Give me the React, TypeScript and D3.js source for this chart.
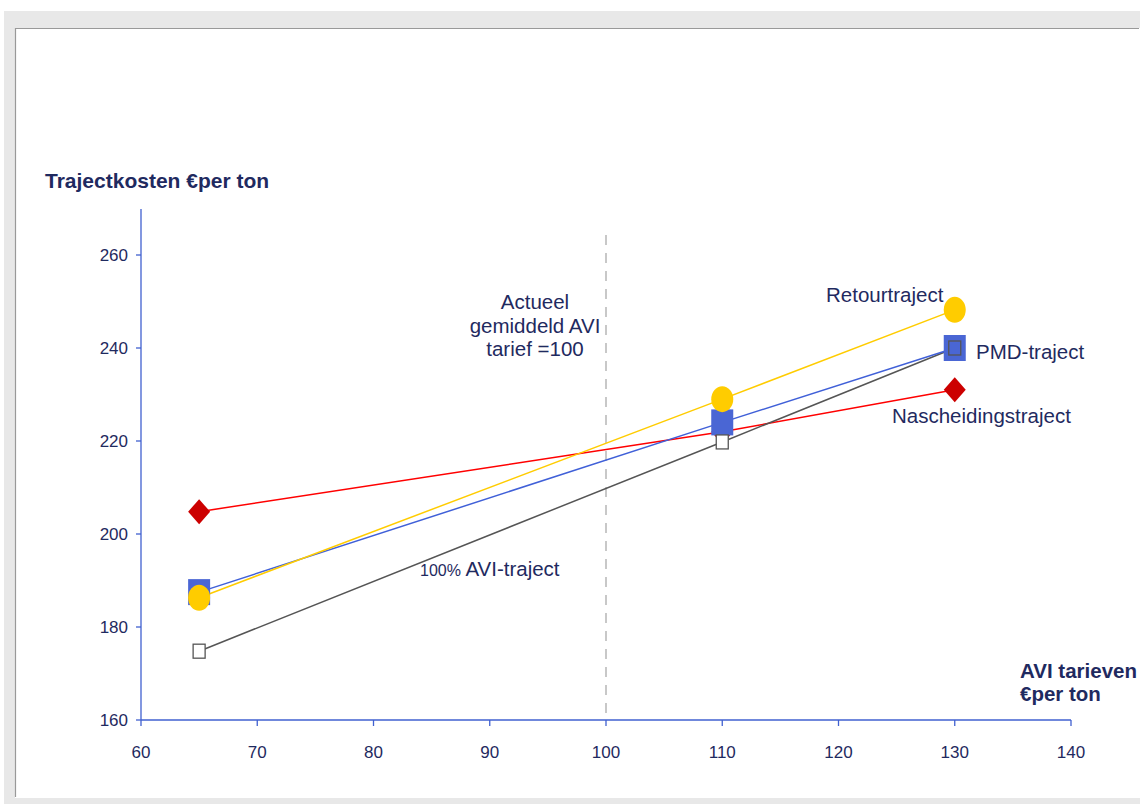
import React from "react";
import * as d3 from "d3";

const xTicks = [60, 70, 80, 90, 100, 110, 120, 130, 140];
const yTicks = [160, 180, 200, 220, 240, 260];
const xValues = [65, 110, 130];
const retourValues = [186.3, 229, 248.2];
const pmdValues = [187.5, 224, 240];
const nascheidingValues = [204.8, 222, 231];
const aviValues = [174.8, 219.8, 240];

const NAVY = "#1f2a60";
const AXIS = "#4060d0";

export default function App() {
  const W = 1140, H = 804;
  const x = d3.scaleLinear().domain([60, 140]).range([141, 1071]);
  const y = d3.scaleLinear().domain([160, 260]).range([720, 255]);
  const line = d3.line<[number, number]>().x((d) => x(d[0])).y((d) => y(d[1]));
  const pts = (vals: number[]) => xValues.map((v, i) => [v, vals[i]] as [number, number]);
  const font = "Arial, 'Liberation Sans', sans-serif";
  const LF = 20.5;

  return (
    <svg width={W} height={H} style={{ position: "absolute", left: 0, top: 0 }} fontFamily={font}>
      <rect x={4} y={11} width={W - 4} height={H - 11} fill="#e8e8e8" />
      <rect x={15} y={28} width={W - 15} height={770} fill="#ffffff" />
      <line x1={15} y1={28.5} x2={1139} y2={28.5} stroke="#999" strokeWidth={1.2} />
      <line x1={15.5} y1={28} x2={15.5} y2={797} stroke="#999" strokeWidth={1.2} />

      {/* dashed reference line */}
      <line x1={x(100)} y1={235} x2={x(100)} y2={720} stroke="#c8c8c8" strokeWidth={2} strokeDasharray="10,8" />

      {/* axes */}
      <line x1={x(60)} y1={209} x2={x(60)} y2={y(160)} stroke={AXIS} strokeWidth={1.3} />
      <line x1={x(60)} y1={y(160)} x2={x(140)} y2={y(160)} stroke={AXIS} strokeWidth={1.3} />
      {yTicks.map((t) => (
        <g key={"y" + t}>
          <line x1={x(60) - 5} x2={x(60)} y1={y(t)} y2={y(t)} stroke={AXIS} strokeWidth={1.3} />
          <text x={128} y={y(t)} dy="0.35em" textAnchor="end" fontSize={17} fill={NAVY}>{t}</text>
        </g>
      ))}
      {xTicks.map((t) => (
        <g key={"x" + t}>
          <line x1={x(t)} x2={x(t)} y1={y(160)} y2={y(160) + 6} stroke={AXIS} strokeWidth={1.3} />
          <text x={x(t)} y={752} dy="0.35em" textAnchor="middle" fontSize={17} fill={NAVY}>{t}</text>
        </g>
      ))}

      {/* lines */}
      <path d={line(pts(nascheidingValues)) || ""} fill="none" stroke="#ff0000" strokeWidth={1.5} />
      <path d={line(pts(aviValues)) || ""} fill="none" stroke="#555555" strokeWidth={1.5} />
      <path d={line(pts(pmdValues)) || ""} fill="none" stroke="#4060d8" strokeWidth={1.5} />
      <path d={line(pts(retourValues)) || ""} fill="none" stroke="#ffcc00" strokeWidth={1.5} />

      {/* markers */}
      {pts(nascheidingValues).map((p, i) => (
        <path key={"n" + i} transform={`translate(${x(p[0])},${y(p[1])})`} d="M0,-12.5 L11,0 L0,12.5 L-11,0 Z" fill="#cc0000" />
      ))}
      {pts(pmdValues).map((p, i) => (
        <rect key={"p" + i} x={x(p[0]) - 11} y={y(p[1]) - 13} width={22} height={26} fill="#4a66d4" />
      ))}
      {pts(aviValues).map((p, i) => (
        <rect key={"a" + i} x={x(p[0]) - 6} y={y(p[1]) - 7} width={12} height={14} fill="#ffffff" fillOpacity={i === 2 ? 0 : 1} stroke="#555" strokeWidth={1.3} />
      ))}
      {pts(retourValues).map((p, i) => (
        <ellipse key={"r" + i} cx={x(p[0])} cy={y(p[1])} rx={11} ry={13} fill="#ffcc00" />
      ))}

      {/* labels */}
      <text x={45} y={188} fontSize={21} fontWeight="bold" fill={NAVY}>Trajectkosten €per ton</text>
      <text x={1020} y={678} fontSize={LF} fontWeight="bold" fill={NAVY}>AVI tarieven</text>
      <text x={1020} y={701} fontSize={LF} fontWeight="bold" fill={NAVY}>€per ton</text>

      <text x={535} y={302} dy="0.35em" textAnchor="middle" fontSize={LF} fill={NAVY}>Actueel</text>
      <text x={535} y={326} dy="0.35em" textAnchor="middle" fontSize={LF} fill={NAVY}>gemiddeld AVI</text>
      <text x={535} y={349} dy="0.35em" textAnchor="middle" fontSize={LF} fill={NAVY}>tarief =100</text>

      <text x={826} y={295} dy="0.35em" fontSize={LF} fill={NAVY}>Retourtraject</text>
      <text x={976} y={352} dy="0.35em" fontSize={LF} fill={NAVY}>PMD-traject</text>
      <text x={892} y={416} dy="0.35em" fontSize={LF} fill={NAVY}>Nascheidingstraject</text>
      <text x={420} y={569} dy="0.35em" fontSize={LF} fill={NAVY}>
        <tspan fontSize={16}>100% </tspan>AVI-traject
      </text>
    </svg>
  );
}
